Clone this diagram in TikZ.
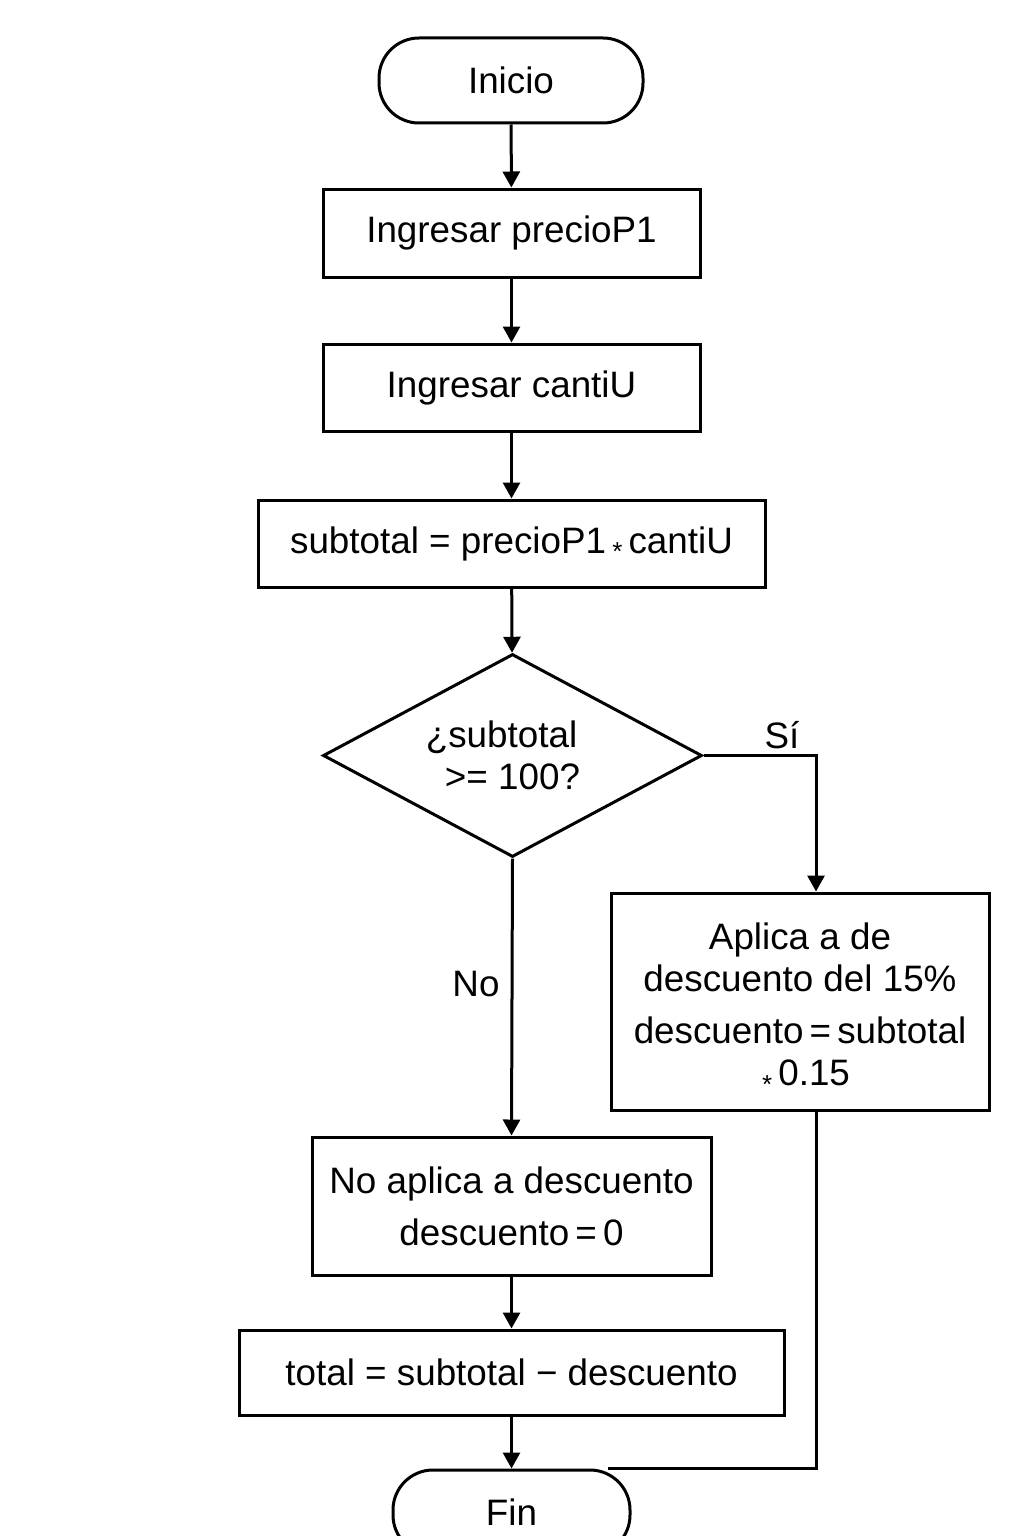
\documentclass[tikz,border=0pt]{standalone}
\usepackage{fontspec}
\setmainfont{Liberation Sans}
\usepackage{tikz}
\usetikzlibrary{shapes.geometric}
\usetikzlibrary{arrows.meta}
\definecolor{line-black}{RGB}{0, 0, 0}
\definecolor{background-white}{RGB}{255, 255, 255}
\newcommand{\prodsign}{\raisebox{-3.8pt}{\fontsize{13}{13}\selectfont *}}
\tikzset{
   base/.style={draw=line-black, line width=1.5pt, inner sep=0pt, align=center, font=\fontsize{18.4}{21}\selectfont},
   pill/.style={base, rounded corners=20pt, minimum height=42.5pt},
   procbox/.style={base, rectangle},
   decision/.style={base, diamond, aspect=1.87, minimum width=189.5pt, minimum height=101.5pt},
   lbl/.style={font=\fontsize{18.4}{21}\selectfont, inner sep=0pt},
   flow/.style={draw=line-black, line width=1.5pt, -{Triangle[length=8pt,width=8.5pt]}},
   link/.style={draw=line-black, line width=1.5pt}
}

\begin{document}
\begin{tikzpicture}[x=0.5pt,y=-0.5pt]
   \fill[use as bounding box,background-white] (0,0) rectangle (1024,1536);
   \node[pill, minimum width=132pt] (inicio) at (511,80.5) {Inicio};
   \node[procbox, minimum width=188.5pt, minimum height=44pt] (precio) at (511.5,233) {Ingresar precioP1};
   \node[procbox, minimum width=188.5pt, minimum height=43.5pt] (canti) at (511.5,387.5) {Ingresar cantiU};
   \node[procbox, minimum width=253.5pt, minimum height=43.5pt] (subtotal) at (511.5,543.5) {subtotal = precioP1\,\prodsign\,cantiU};
   \node[decision] (cond) at (512.5,755.5) {¿subtotal\hspace{11pt}\mbox{}\\>= 100?};
   \node[procbox, minimum width=189pt, minimum height=108.5pt] (aplica) at (800,1001.5)
      {\rule{0pt}{20pt}Aplica a de\\descuento del 15\%\\[5pt]descuento\,=\,subtotal\\\hspace{6pt}\prodsign\,0.15};
   \node[procbox, minimum width=199.5pt, minimum height=69pt] (noaplica) at (511.5,1206)
      {No aplica a descuento\\[5pt]descuento\,=\,0};
   \node[procbox, minimum width=272.5pt, minimum height=42.5pt] (total) at (511.5,1372.5) {total = subtotal − descuento};
   \node[pill, minimum width=118.5pt] (fin) at (511.5,1512.5) {Fin};
   \node[lbl] (si) at (782,735) {Sí};
   \node[lbl] (no) at (476,984) {No};
   \draw[flow] (inicio) -- (precio);
   \draw[flow] (precio) -- (canti);
   \draw[flow] (canti) -- (subtotal);
   \draw[flow] (subtotal) -- (cond);
   \draw[flow] (cond.east) -| ([xshift=8pt]aplica.north);
   \draw[flow] (cond.south) -- (noaplica.north);
   \draw[flow] (noaplica) -- (total);
   \draw[flow] (total) -- (fin);
   \draw[link] ([xshift=8pt]aplica.south) |- ([xshift=-12pt]fin.north east);
\end{tikzpicture}
\end{document}
